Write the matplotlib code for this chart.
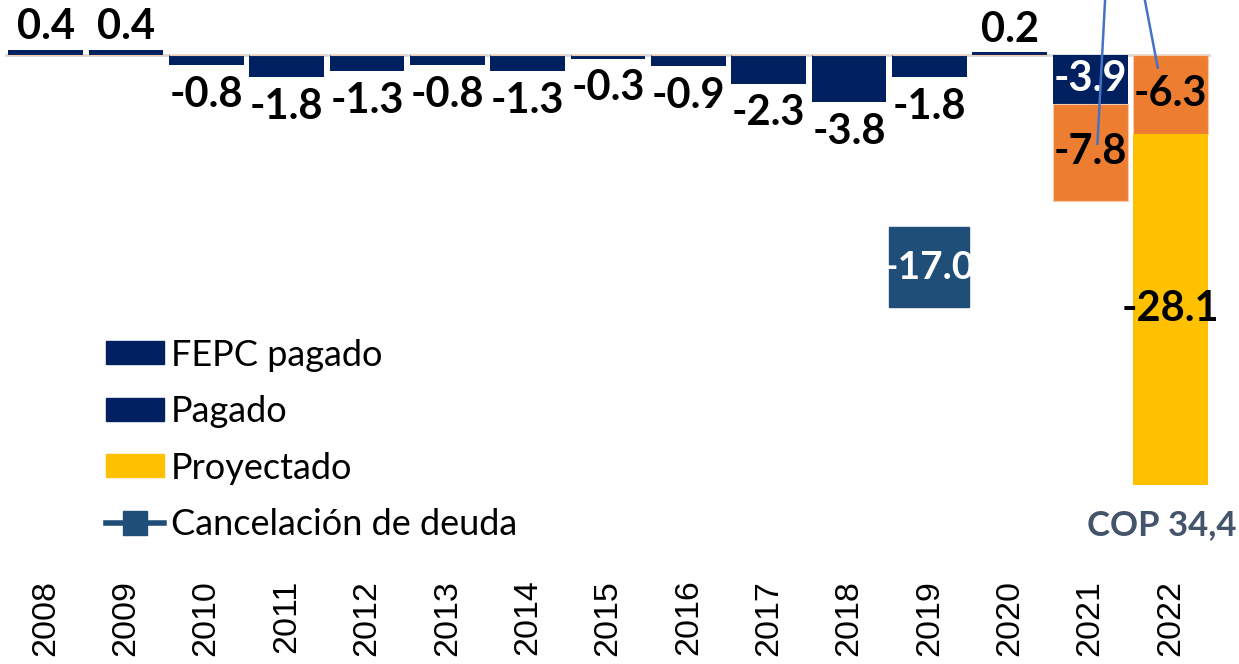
import numpy as np
import matplotlib
matplotlib.use("Agg")
import matplotlib.pyplot as plt
from matplotlib.patches import Patch
from matplotlib.lines import Line2D

# data
years = [str(y) for y in range(2008, 2023)]
fepc_pagado = [0.4, 0.4, -0.8, -1.8, -1.3, -0.8, -1.3, -0.3, -0.9, -2.3, -3.8, -1.8, 0.2, 0, 0]
pagado = [0, 0, 0, 0, 0, 0, 0, 0, 0, 0, 0, 0, 0, -3.9, 0]
adicional = [0, 0, 0, 0, 0, 0, 0, 0, 0, 0, 0, 0, 0, -7.8, -6.3]
proyectado = [0, 0, 0, 0, 0, 0, 0, 0, 0, 0, 0, 0, 0, 0, -28.1]
cancelacion_idx = 11
cancelacion_val = -17.0
total_text = "COP 34,4"

NAVY = "#002060"
ORANGE = "#ED7D31"
YELLOW = "#FFC000"
STEEL = "#1F4E79"

plt.rcParams["font.family"] = ["Lato", "DejaVu Sans"]

fig = plt.figure(figsize=(12.39, 6.64), dpi=100)
ax = fig.add_axes([0.0043, 0.1416, 0.9729, 0.8584])

x = np.arange(len(years))
w = 0.93
fepc = np.array(fepc_pagado)
pag = np.array(pagado)
adi = np.array(adicional)
pro = np.array(proyectado)

ax.axhline(0, color="#D9D9D9", lw=2, zorder=1)
ax.bar(x, fepc, w, color=NAVY, zorder=2)
ax.bar(x, pag, w, color=NAVY, zorder=2)
ax.bar(x, adi, w, bottom=pag, color=ORANGE, edgecolor="#F8CBAD", lw=0.8, zorder=2)
ax.bar(x, pro, w, bottom=pag + adi, color=YELLOW, zorder=2)

# marker for debt cancellation
ax.plot([x[cancelacion_idx]], [cancelacion_val], marker="s", ms=57.6,
        color=STEEL, ls="none", zorder=3)
ax.text(x[cancelacion_idx], cancelacion_val, f"{cancelacion_val:.1f}",
        ha="center", va="center", color="white", fontsize=28,
        fontweight="bold", zorder=4)

# labels for the FEPC bars
for xi, v in zip(x, fepc):
    if v == 0:
        continue
    if v > 0:
        ax.text(xi, v + 0.3, f"{v:.1f}", ha="center", va="bottom",
                fontsize=30, fontweight="bold")
    else:
        ax.text(xi, v - 0.85, f"{v:.1f}", ha="center", va="top",
                fontsize=30, fontweight="bold")

# stacked labels (centered)
for xi, v in zip(x, pag):
    if v != 0:
        ax.text(xi, v / 2, f"{v:.1f}", ha="center", va="center",
                fontsize=30, fontweight="bold", color="white")
for xi, b, v in zip(x, pag, adi):
    if v != 0:
        ax.text(xi, b + v / 2, f"{v:.1f}", ha="center", va="center",
                fontsize=30, fontweight="bold")
for xi, b, v in zip(x, pag + adi, pro):
    if v != 0:
        ax.text(xi, b + v / 2, f"{v:.1f}", ha="center", va="center",
                fontsize=30, fontweight="bold")

# leader lines coming from callouts above the crop
ax.plot([13.185, 13.09], [4.4, -7.1], color="#4472C4", lw=1.8, zorder=5, clip_on=False)
ax.plot([13.68, 13.84], [4.4, -1.0], color="#4472C4", lw=1.8, zorder=5, clip_on=False)

fig.text(0.998, 0.21, total_text, ha="right", va="center", fontsize=25,
         fontweight="bold", color="#44546A")

ax.set_xlim(-0.5, 14.5)
ax.set_ylim(-41.2, 4.4)
ax.set_xticks(x)
ax.set_xticklabels(years, rotation=90, fontsize=24.5)
for lab in ax.get_xticklabels():
    lab.set_fontfamily("Liberation Sans")
ax.tick_params(axis="x", length=0, pad=7)
ax.set_yticks([])
for s in ax.spines.values():
    s.set_visible(False)

handles = [
    Patch(color=NAVY, label="FEPC pagado"),
    Patch(color=NAVY, label="Pagado"),
    Patch(color=YELLOW, label="Proyectado"),
    Line2D([0], [0], color=STEEL, lw=4, marker="s", ms=17, label="Cancelación de deuda"),
]
ax.legend(handles=handles, loc="upper left", bbox_to_anchor=(0.0855, 0.49),
          bbox_transform=fig.transFigure, frameon=False, fontsize=26,
          handlelength=1.6, handleheight=0.6, handletextpad=0.2,
          labelspacing=0.65, borderpad=0, borderaxespad=0)

fig.savefig("out.png", dpi=100)
